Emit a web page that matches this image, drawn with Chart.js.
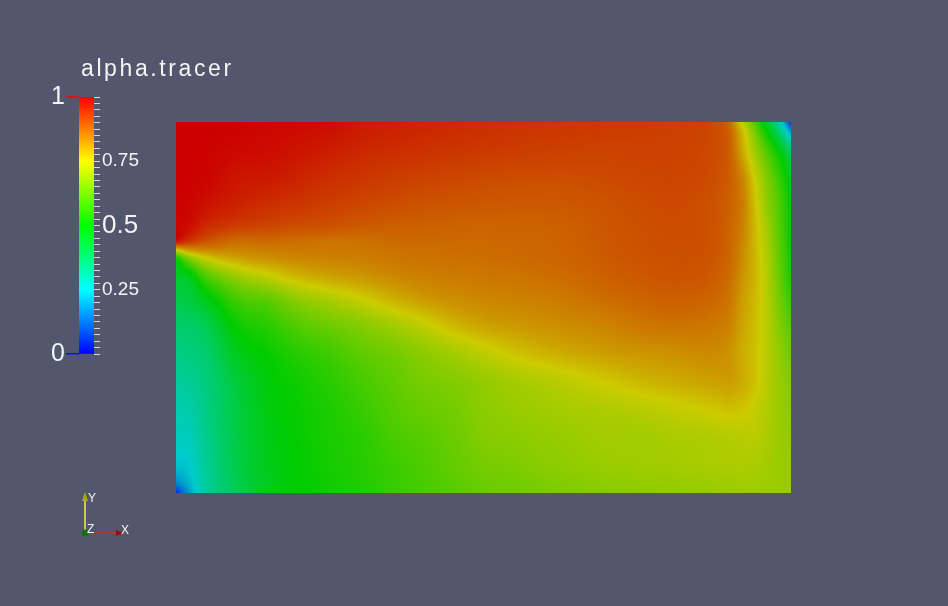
<!DOCTYPE html>
<html>
<head>
<meta charset="utf-8">
<title>alpha.tracer</title>
<script src="https://cdn.jsdelivr.net/npm/chart.js@4.4.1/dist/chart.umd.min.js"></script>
<style>
  html, body { margin: 0; padding: 0; background: #52576e; overflow: hidden; }
  #wrap { position: relative; width: 948px; height: 606px; }
  #wrap canvas { position: absolute; left: 0; top: 0; }
  #title {
    position: absolute; left: 81px; top: 57px;
    color: #f4f4f4; font: 23px "Liberation Sans", Arial, sans-serif;
    letter-spacing: 2.6px; white-space: nowrap; line-height: 1;
  }
</style>
</head>
<body>
<div id="wrap">
  <canvas id="field" width="948" height="606"></canvas>
  <canvas id="legendBar" width="170" height="606"></canvas>
  <div id="title">alpha.tracer</div>
</div>
<script>
// Sample positions of the alpha.tracer field (x across, y height from the bottom)
const xNodes = [0, 0.02, 0.05, 0.1, 0.15, 0.2, 0.25, 0.3, 0.35, 0.4, 0.45, 0.5, 0.55,
                0.6, 0.65, 0.7, 0.75, 0.8, 0.85, 0.88, 0.9, 0.92, 0.94, 0.96, 0.98, 1];
const yNodes = [1, 0.97, 0.92, 0.85, 0.78, 0.72, 0.68, 0.655, 0.63, 0.58,
                0.52, 0.45, 0.38, 0.30, 0.22, 0.15, 0.08, 0.03, 0];

// alpha.tracer values, one row per yNodes entry (top row first)
const alphaRows = [
  [1, 1, 1, 1, .995, .99, .985, .97, .962, .956, .95, .945, .94, .936, .933, .93, .928, .925, .92, .905, .87, .74, .6, .45, .3, .06],
  [1, 1, 1, .997, .99, .985, .978, .965, .957, .95, .945, .94, .935, .932, .93, .927, .925, .922, .917, .905, .88, .78, .66, .52, .38, .2],
  [1, 1, .998, .99, .985, .975, .965, .952, .945, .94, .935, .93, .926, .923, .92, .918, .92, .92, .915, .905, .885, .8, .7, .6, .5, .38],
  [1, 1, .995, .975, .97, .958, .945, .935, .927, .92, .915, .91, .907, .905, .906, .91, .913, .915, .912, .902, .885, .84, .75, .66, .57, .46],
  [1, .995, .98, .96, .945, .935, .925, .915, .907, .9, .896, .893, .891, .891, .894, .9, .906, .91, .906, .896, .88, .85, .77, .68, .6, .49],
  [.995, .985, .95, .925, .915, .905, .9, .89, .885, .882, .88, .878, .879, .881, .886, .895, .902, .907, .905, .895, .877, .845, .78, .7, .61, .5],
  [.98, .94, .9, .869, .872, .866, .862, .863, .87, .872, .872, .872, .874, .877, .883, .893, .9, .905, .904, .894, .876, .84, .78, .71, .615, .505],
  [.75, .812, .835, .839, .847, .851, .852, .855, .861, .864, .867, .87, .872, .876, .882, .892, .9, .904, .903, .893, .875, .835, .78, .715, .62, .51],
  [.5, .639, .738, .796, .819, .833, .839, .844, .853, .86, .862, .865, .869, .874, .88, .89, .897, .902, .901, .891, .873, .832, .78, .72, .625, .515],
  [.45, .46, .584, .68, .729, .773, .796, .812, .829, .842, .848, .853, .857, .864, .871, .882, .89, .896, .894, .884, .866, .822, .78, .722, .635, .53],
  [.41, .42, .473, .581, .615, .675, .708, .741, .779, .807, .823, .834, .84, .845, .855, .866, .875, .882, .88, .871, .855, .81, .775, .725, .65, .56],
  [.37, .375, .403, .51, .55, .603, .633, .662, .695, .733, .772, .798, .811, .821, .83, .838, .852, .858, .857, .85, .84, .8, .77, .727, .665, .6],
  [.34, .345, .37, .468, .51, .55, .58, .616, .642, .672, .702, .734, .762, .782, .797, .808, .817, .823, .831, .83, .82, .79, .765, .728, .68, .63],
  [.31, .315, .35, .43, .49, .52, .55, .584, .615, .645, .659, .682, .701, .718, .736, .755, .773, .786, .797, .803, .807, .79, .765, .725, .69, .655],
  [.29, .29, .34, .42, .48, .51, .535, .565, .6, .625, .64, .67, .685, .695, .705, .712, .72, .734, .746, .755, .761, .755, .74, .718, .69, .67],
  [.27, .27, .33, .415, .475, .505, .53, .55, .585, .605, .63, .66, .67, .68, .69, .7, .698, .707, .712, .716, .72, .725, .725, .71, .69, .68],
  [.24, .245, .32, .41, .47, .5, .525, .545, .572, .595, .62, .645, .655, .67, .68, .69, .695, .7, .705, .71, .712, .712, .71, .7, .69, .685],
  [.17, .22, .31, .405, .465, .5, .52, .54, .565, .588, .61, .632, .64, .655, .665, .675, .68, .685, .69, .695, .697, .7, .7, .695, .69, .685],
  [.05, .18, .31, .4, .465, .5, .52, .54, .563, .585, .605, .625, .635, .645, .655, .665, .67, .675, .68, .685, .688, .69, .69, .69, .69, .685]
];

// Colour legend ticks
const labelledTicks = [0.25, 0.5, 0.75];
const rangeTicks = [0, 1];
const minorStep = 0.025;

// Blue -> cyan -> green -> yellow -> red rainbow (HSV hue 240 -> 0)
function rainbow(v, value) {
  const t = Math.min(1, Math.max(0, v));
  const hp = (240 * (1 - t)) / 60;
  const x = value * (1 - Math.abs((hp % 2) - 1));
  let r = 0, g = 0, b = 0;
  if (hp < 1) { r = value; g = x; }
  else if (hp < 2) { r = x; g = value; }
  else if (hp < 3) { g = value; b = x; }
  else { g = x; b = value; }
  return [Math.round(r * 255), Math.round(g * 255), Math.round(b * 255)];
}

function locate(nodes, v) {
  const last = nodes.length - 1;
  const asc = nodes[last] > nodes[0];
  for (let i = 0; i < last; i++) {
    const a = nodes[i], b = nodes[i + 1];
    const inside = asc ? (v >= a && v <= b) : (v <= a && v >= b);
    if (inside) return [i, (v - a) / (b - a)];
  }
  const beforeStart = asc ? v < nodes[0] : v > nodes[0];
  return beforeStart ? [0, 0] : [last - 1, 1];
}

// Cubic Hermite between samples i and i+1 with finite-difference slopes
function slope(nodes, vals, i) {
  const a = Math.max(0, i - 1), b = Math.min(nodes.length - 1, i + 1);
  return (vals[b] - vals[a]) / (nodes[b] - nodes[a]);
}
function hermite(nodes, vals, i, t) {
  const h = nodes[i + 1] - nodes[i];
  const t2 = t * t, t3 = t2 * t;
  return (2 * t3 - 3 * t2 + 1) * vals[i] + (t3 - 2 * t2 + t) * h * slope(nodes, vals, i)
       + (-2 * t3 + 3 * t2) * vals[i + 1] + (t3 - t2) * h * slope(nodes, vals, i + 1);
}

// Shades the sampled field inside the plot area, using the chart's x/y scales
const fieldPlugin = {
  id: 'alphaField',
  beforeDatasetsDraw(chart) {
    const { ctx, scales: { x, y } } = chart;
    const left = Math.round(x.getPixelForValue(xNodes[0]));
    const right = Math.round(x.getPixelForValue(xNodes[xNodes.length - 1]));
    const top = Math.round(y.getPixelForValue(yNodes[0]));
    const bottom = Math.round(y.getPixelForValue(yNodes[yNodes.length - 1]));
    const w = right - left, h = bottom - top;
    const img = ctx.createImageData(w, h);
    // per pixel column: the field along every sample row
    const columns = [];
    for (let px = 0; px < w; px++) {
      const [i, tx] = locate(xNodes, x.getValueForPixel(left + px + 0.5));
      columns.push(alphaRows.map(row => hermite(xNodes, row, i, tx)));
    }
    for (let py = 0; py < h; py++) {
      const [j, ty] = locate(yNodes, y.getValueForPixel(top + py + 0.5));
      for (let px = 0; px < w; px++) {
        const v = hermite(yNodes, columns[px], j, ty);
        const [cr, cg, cb] = rainbow(v, 0.8);
        const k = (py * w + px) * 4;
        img.data[k] = cr; img.data[k + 1] = cg; img.data[k + 2] = cb; img.data[k + 3] = 255;
      }
    }
    ctx.putImageData(img, left, top);
  }
};

// Orientation triad in the lower left corner
const triadPlugin = {
  id: 'triad',
  afterDraw(chart) {
    const { ctx } = chart;
    const ox = 85, oy = 533;
    ctx.save();
    ctx.lineWidth = 1.5;
    ctx.strokeStyle = '#f0f030';
    ctx.beginPath(); ctx.moveTo(ox, oy); ctx.lineTo(ox, 499); ctx.stroke();
    ctx.fillStyle = '#a8a818';
    ctx.beginPath(); ctx.moveTo(ox, 492); ctx.lineTo(ox - 3, 501); ctx.lineTo(ox + 3, 501); ctx.closePath(); ctx.fill();
    ctx.strokeStyle = '#e02020';
    ctx.beginPath(); ctx.moveTo(ox, oy); ctx.lineTo(118, oy); ctx.stroke();
    ctx.fillStyle = '#901010';
    ctx.beginPath(); ctx.moveTo(124, oy); ctx.lineTo(116, oy - 3); ctx.lineTo(116, oy + 3); ctx.closePath(); ctx.fill();
    ctx.fillStyle = '#137013';
    ctx.beginPath(); ctx.arc(ox, oy, 3.5, 0, Math.PI * 2); ctx.fill();
    ctx.fillStyle = '#f4f4f4';
    ctx.font = '12px "Liberation Sans", Arial, sans-serif';
    ctx.textBaseline = 'alphabetic';
    ctx.fillText('Y', 88, 502);
    ctx.fillText('Z', 87, 533);
    ctx.fillText('X', 121, 534);
    ctx.restore();
  }
};

const fieldPoints = [];
yNodes.forEach((yv, j) => xNodes.forEach((xv, i) => fieldPoints.push({ x: xv, y: yv, v: alphaRows[j][i] })));

new Chart(document.getElementById('field'), {
  type: 'scatter',
  data: { datasets: [{ label: 'alpha.tracer', data: fieldPoints, pointRadius: 0, pointHoverRadius: 0 }] },
  options: {
    responsive: false,
    animation: false,
    events: [],
    layout: { padding: { left: 176, top: 122, right: 157, bottom: 113 } },
    plugins: { legend: { display: false }, tooltip: { enabled: false } },
    scales: {
      x: { type: 'linear', min: 0, max: 1, display: false },
      y: { type: 'linear', min: 0, max: 1, display: false }
    }
  },
  plugins: [fieldPlugin, triadPlugin]
});

const labelFont = '"Liberation Sans", Arial, sans-serif';

// Colour legend: one floating bar spanning 0..1 filled with the rainbow
new Chart(document.getElementById('legendBar'), {
  type: 'bar',
  data: {
    labels: ['alpha.tracer'],
    datasets: [{
      data: [[0, 1]],
      borderWidth: 0,
      barPercentage: 1,
      categoryPercentage: 1,
      backgroundColor(c) {
        const chart = c.chart;
        if (!chart.chartArea) return '#888';
        const ys = chart.scales.y;
        const g = chart.ctx.createLinearGradient(0, ys.getPixelForValue(0), 0, ys.getPixelForValue(1));
        for (let s = 0; s <= 48; s++) {
          const [r, gg, b] = rainbow(s / 48, 1);
          g.addColorStop(s / 48, `rgb(${r},${gg},${b})`);
        }
        return g;
      }
    }]
  },
  options: {
    responsive: false,
    animation: false,
    events: [],
    layout: { padding: { left: 49, right: 16, top: 97, bottom: 252 } },
    plugins: { legend: { display: false }, tooltip: { enabled: false } },
    scales: {
      x: { display: false },
      y: {
        position: 'right', min: 0, max: 1,
        afterFit(s) { s.width = 60; },
        border: { display: false },
        grid: { drawOnChartArea: false, drawTicks: true, tickLength: 6, color: '#d6d6d6', lineWidth: 1 },
        ticks: {
          stepSize: minorStep, autoSkip: false, padding: 2, color: '#f4f4f4',
          callback(v) {
            const hit = labelledTicks.find(t => Math.abs(t - v) < 1e-6);
            return hit === undefined ? '' : String(hit);
          },
          font(c) {
            const v = c.tick ? c.tick.value : 0;
            return { family: labelFont, size: Math.abs(v - 0.5) < 1e-6 ? 26 : 19 };
          }
        }
      },
      range: {
        position: 'left', min: 0, max: 1,
        afterFit(s) { s.width = 30; },
        afterBuildTicks(s) { s.ticks = rangeTicks.map(v => ({ value: v })); },
        border: { display: false },
        grid: {
          drawOnChartArea: false, tickLength: 13, lineWidth: 1.5,
          color(c) { return c.tick && c.tick.value === 1 ? '#e01010' : '#1010e0'; }
        },
        ticks: { padding: 1, color: '#f4f4f4', font: { family: labelFont, size: 25 }, callback: v => String(v) }
      }
    }
  }
});
</script>
</body>
</html>
